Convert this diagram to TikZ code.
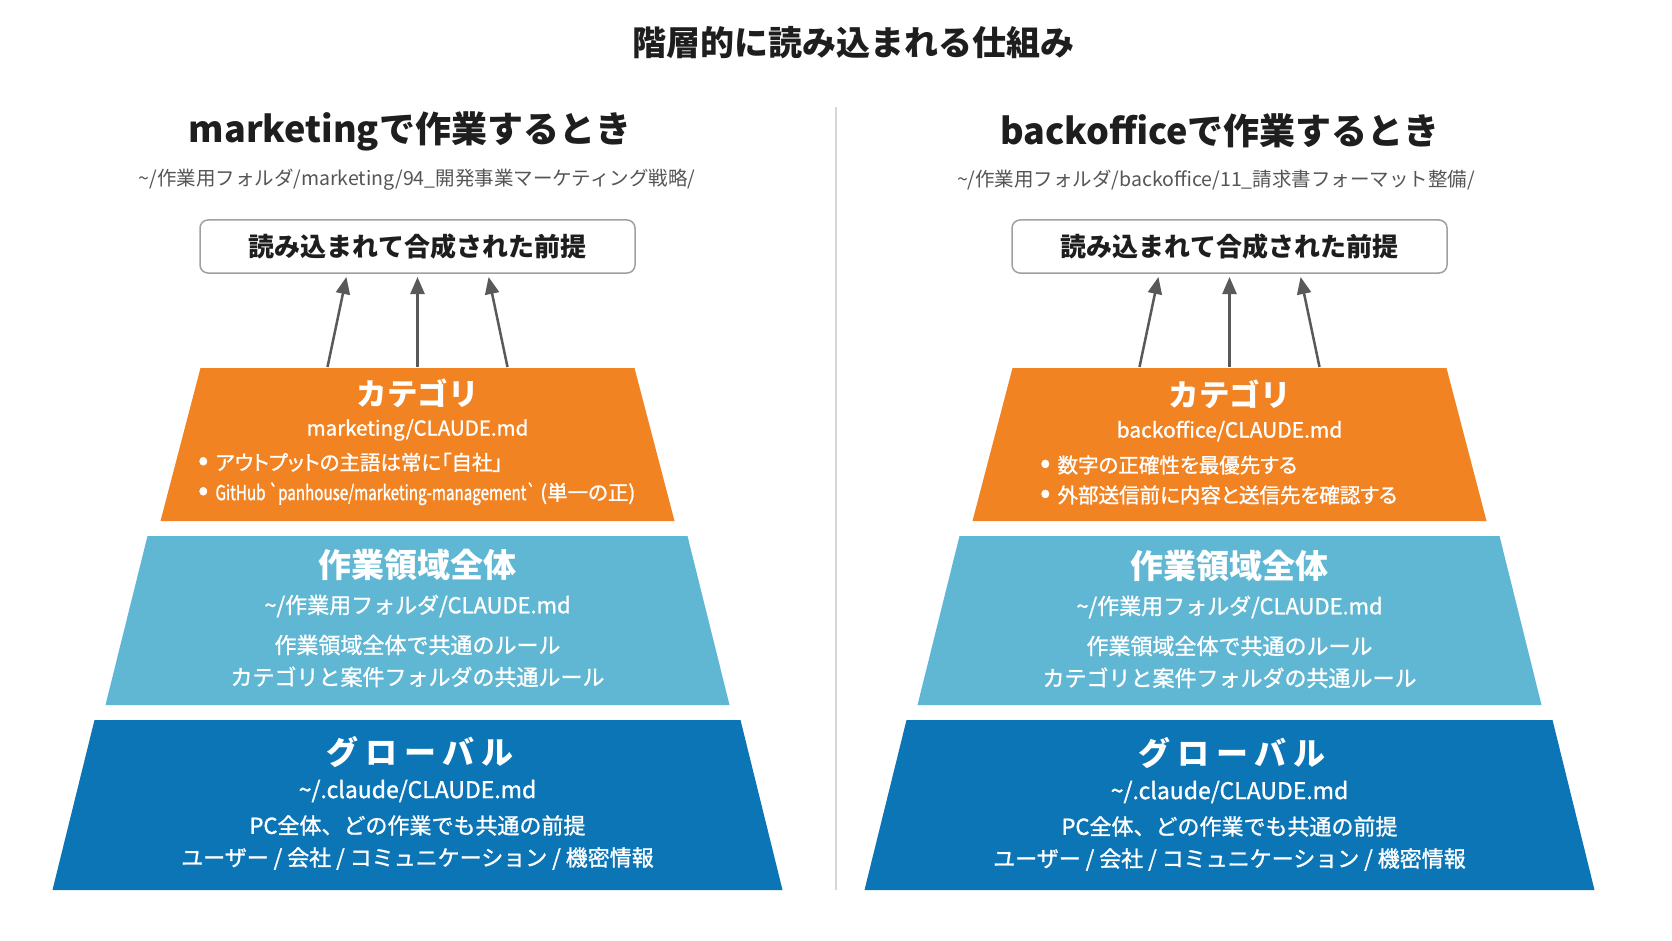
\documentclass[tikz,border=0pt]{standalone}
\usepackage{fontspec}
\newfontfamily\jpfont{Noto Sans CJK JP}
\newfontfamily\jpmid{Noto Sans CJK JP}[FakeBold=1.2]
\usetikzlibrary{arrows.meta, calc}
\definecolor{layOrange}{HTML}{F28322}
\definecolor{laySky}{HTML}{5FB7D4}
\definecolor{layBlue}{HTML}{0B75B6}
\definecolor{inkDark}{HTML}{1E1E1E}
\definecolor{inkGray}{HTML}{555555}
\definecolor{arrGray}{HTML}{595959}
\definecolor{lineGray}{HTML}{D6D6D6}
\definecolor{boxGray}{HTML}{A0A0A0}
\newcommand{\jpsize}[2]{\fontsize{#1}{#2}\selectfont}
\newcommand{\blt}{{\jpsize{30}{30}•}\hspace{0.35em}}
\newcommand{\narrow}[1]{{\addfontfeature{FakeStretch=0.74}#1}}

\begin{document}
\begin{tikzpicture}[x=1pt, y=-1pt, >={Triangle[length=17pt,width=14pt]}, font=\jpfont,
    maintitle/.style={font=\jpfont\bfseries\jpsize{34}{40}, text=inkDark, inner sep=0pt},
    casehead/.style={font=\jpfont\bfseries\jpsize{36}{42}, text=inkDark, inner sep=0pt},
    casepath/.style={font=\jpfont\jpsize{19.5}{24}, text=inkGray, inner sep=0pt},
    mergebox/.style={draw=boxGray, line width=1.5pt, rounded corners=8pt, fill=white, minimum width=435pt, minimum height=53pt, font=\jpfont\bfseries\jpsize{26}{30}, text=inkDark},
    layname/.style={font=\jpfont\bfseries\jpsize{33}{36}, text=white, inner sep=0pt},
    laypath/.style={font=\jpmid\jpsize{22}{26}, text=white, inner sep=0pt},
    laytext/.style={font=\jpmid\jpsize{22}{32}, text=white, inner sep=0pt, align=center},
    laybullet/.style={font=\jpmid\jpsize{20.5}{30}\addfontfeature{RawFeature=+palt}, text=white, inner sep=0pt, align=left, anchor=west},
    feed/.style={->, line width=2.5pt, draw=arrGray}]

  \fill[white] (0,0) rectangle (1672,941);
  \useasboundingbox (0,0) rectangle (1672,941);

  % divider between the two cases
  \draw[lineGray, line width=1.5pt] (836,107) -- (836,890);

  % the three layers of each pyramid
  \foreach \cx in {417.5,1229.5} {
    \fill[layOrange] (\cx-217,368) -- (\cx+217,368) -- (\cx+257,521) -- (\cx-257,521) -- cycle;
    \fill[laySky]    (\cx-270,536) -- (\cx+270,536) -- (\cx+312,705) -- (\cx-312,705) -- cycle;
    \fill[layBlue]   (\cx-323,720) -- (\cx+323,720) -- (\cx+365,890) -- (\cx-365,890) -- cycle;
  }

  \node[maintitle] (title) at (853,43) {階層的に読み込まれる仕組み};

  % marketing
  \node[casehead] (headM) at (410,131) {marketingで作業するとき};
  \node[casepath] (pathM) at (417,180) {\textasciitilde/作業用フォルダ/marketing/94\_開発事業マーケティング戦略/};
  \node[mergebox] (mergeM) at (417.5,246.5) {読み込まれて合成された前提};

  \node[layname, font=\jpfont\bfseries\jpsize{30.5}{36}] (catM) at (417.5,393) {カテゴリ};
  \node[laypath, font=\jpmid\jpsize{20.5}{26}] (catMpath) at (417.5,430) {marketing/CLAUDE.md};
  \node[laybullet] (catMlist) at (198,479)
    {\blt アウトプットの主語は常に「自社」\\\blt\narrow{GitHub `panhouse/marketing-management`} (単一の正)};

  \node[layname]  (wsM)     at (417.5,565) {作業領域全体};
  \node[laypath]  (wsMpath) at (417.5,606) {\textasciitilde/作業用フォルダ/CLAUDE.md};
  \node[laytext]  (wsMtext) at (417.5,661) {作業領域全体で共通のルール\\カテゴリと案件フォルダの共通ルール};

  \node[layname, font=\jpfont\bfseries\jpsize{32}{36}\addfontfeature{LetterSpace=22}] (glM) at (420,752) {グローバル};
  \node[laypath, font=\jpmid\jpsize{23}{26}] (glMpath) at (417.5,791) {\textasciitilde/.claude/CLAUDE.md};
  \node[laytext]  (glMtext) at (417.5,842.5) {PC全体、どの作業でも共通の前提\\ユーザー / 会社 / コミュニケーション / 機密情報};

  % backoffice
  \node[casehead] (headB) at (1220,131) {backofficeで作業するとき};
  \node[casepath] (pathB) at (1216,180) {\textasciitilde/作業用フォルダ/backoffice/11\_請求書フォーマット整備/};
  \node[mergebox] (mergeB) at (1229.5,246.5) {読み込まれて合成された前提};

  \node[layname, font=\jpfont\bfseries\jpsize{30.5}{36}] (catB) at (1229.5,394) {カテゴリ};
  \node[laypath, font=\jpmid\jpsize{21}{26}] (catBpath) at (1229.5,431) {backoffice/CLAUDE.md};
  \node[laybullet] (catBlist) at (1040,480)
    {\blt 数字の正確性を最優先する\\\blt 外部送信前に内容と送信先を確認する};

  \node[layname]  (wsB)     at (1229.5,566) {作業領域全体};
  \node[laypath]  (wsBpath) at (1229.5,607) {\textasciitilde/作業用フォルダ/CLAUDE.md};
  \node[laytext]  (wsBtext) at (1229.5,662) {作業領域全体で共通のルール\\カテゴリと案件フォルダの共通ルール};

  \node[layname, font=\jpfont\bfseries\jpsize{32}{36}\addfontfeature{LetterSpace=22}] (glB) at (1232,753) {グローバル};
  \node[laypath, font=\jpmid\jpsize{23}{26}] (glBpath) at (1229.5,792) {\textasciitilde/.claude/CLAUDE.md};
  \node[laytext]  (glBtext) at (1229.5,843.5) {PC全体、どの作業でも共通の前提\\ユーザー / 会社 / コミュニケーション / 機密情報};

  % arrows from the top layer into the merged box
  \foreach \cx/\s in {417.5/M,1229.5/B} {
    \foreach \d [count=\i] in {-90,0,90} {
      \coordinate (from\s\i) at (\cx+\d,367);
      \coordinate (to\s\i) at (\cx+0.79*\d,277);
      \draw[feed] (from\s\i) -- (to\s\i);
    }
  }
\end{tikzpicture}
\end{document}
